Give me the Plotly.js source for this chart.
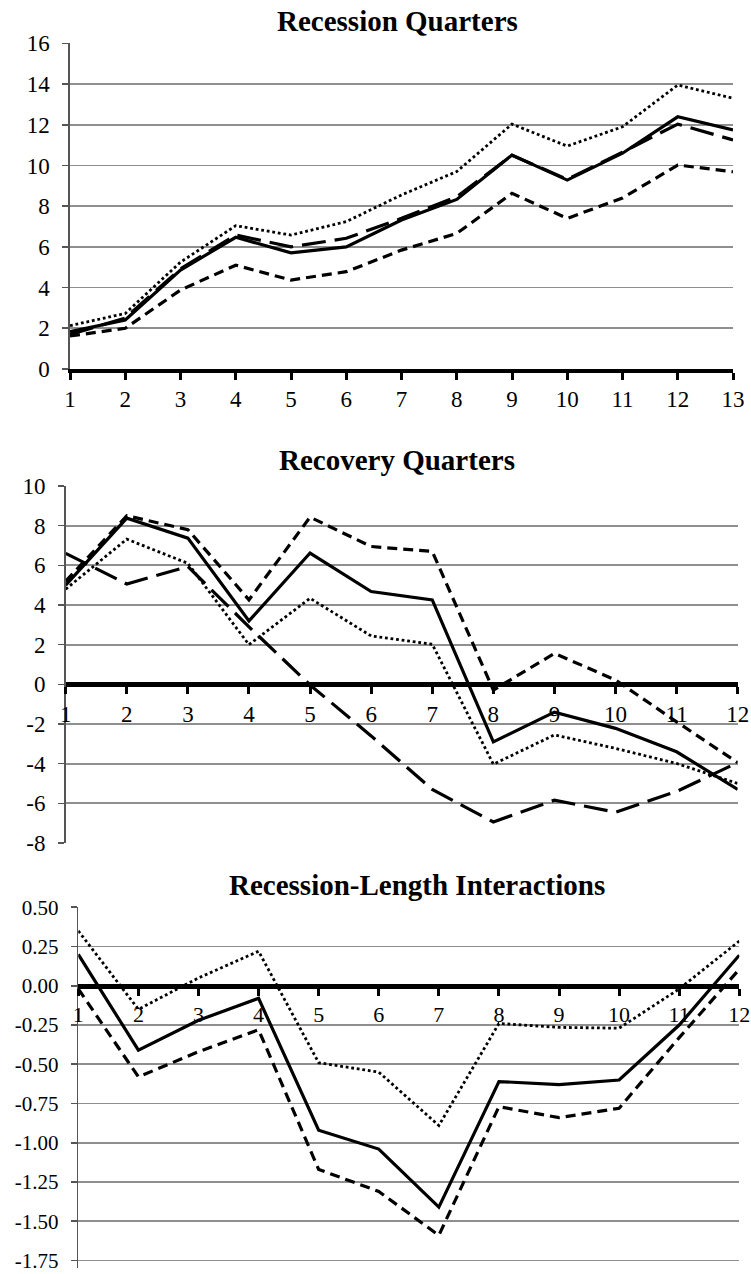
<!DOCTYPE html>
<html>
<head>
<meta charset="utf-8">
<script src="https://cdn.plot.ly/plotly-3.0.1.min.js"></script>
<style>html,body{margin:0;padding:0;background:#fff;}#chart{width:751px;height:1274px;}</style>
</head>
<body>
<div id="chart"></div>
<script>
// ---- data ----
const titles = ["Recession Quarters", "Recovery Quarters", "Recession-Length Interactions"];
const quartersRecession = [1,2,3,4,5,6,7,8,9,10,11,12,13];
const quartersRecovery = [1,2,3,4,5,6,7,8,9,10,11,12];
const quartersInteraction = [1,2,3,4,5,6,7,8,9,10,11,12];

const recessionSolid     = [1.83, 2.41, 4.86, 6.47, 5.71, 6.00, 7.32, 8.33, 10.51, 9.28, 10.60, 12.39, 11.74];
const recessionLongDash  = [1.70, 2.50, 4.92, 6.58, 6.00, 6.42, 7.40, 8.46, 10.50, 9.32, 10.65, 12.03, 11.25];
const recessionShortDash = [1.62, 2.00, 3.88, 5.10, 4.37, 4.78, 5.84, 6.66, 8.63, 7.40, 8.40, 10.02, 9.69];
const recessionDotted    = [2.13, 2.73, 5.25, 7.04, 6.58, 7.24, 8.55, 9.70, 12.03, 10.95, 11.90, 13.95, 13.30];

const recoverySolid     = [5.00, 8.38, 7.37, 3.20, 6.62, 4.68, 4.26, -2.90, -1.40, -2.22, -3.40, -5.30];
const recoveryLongDash  = [6.60, 5.06, 5.94, 2.90, -0.03, -2.60, -5.30, -6.94, -5.84, -6.45, -5.40, -3.95];
const recoveryShortDash = [5.20, 8.50, 7.80, 4.26, 8.43, 6.95, 6.70, -0.29, 1.56, 0.22, -1.89, -3.95];
const recoveryDotted    = [4.80, 7.32, 6.10, 2.00, 4.34, 2.44, 2.02, -4.03, -2.55, -3.23, -3.99, -5.00];

const interactionSolid     = [0.20, -0.41, -0.22, -0.08, -0.92, -1.04, -1.41, -0.61, -0.63, -0.60, -0.25, 0.195];
const interactionShortDash = [-0.02, -0.58, -0.42, -0.28, -1.17, -1.31, -1.59, -0.77, -0.84, -0.78, -0.33, 0.105];
const interactionDotted    = [0.35, -0.15, 0.05, 0.22, -0.49, -0.55, -0.89, -0.24, -0.265, -0.27, -0.02, 0.285];

const yTicks1 = [0,2,4,6,8,10,12,14,16];
const yTicks2 = [-8,-6,-4,-2,0,2,4,6,8,10];
const yTicks3 = [-1.75,-1.5,-1.25,-1,-0.75,-0.5,-0.25,0,0.25,0.5];
const yTickText3 = ["-1.75","-1.50","-1.25","-1.00","-0.75","-0.50","-0.25","0.00","0.25","0.50"];

// ---- styles ----
const W = 751, H = 1274;
const FONT = "Liberation Serif, Times New Roman, serif";
const styles = {
  solid:     {color:"#000", width:3.2, dash:"solid"},
  longdash:  {color:"#000", width:3.2, dash:"24px,9px"},
  shortdash: {color:"#000", width:3.2, dash:"10px,6px"},
  dotted:    {color:"#000", width:2.8, dash:"2.8px,2.8px"}
};
function tr(x, y, st, xa, ya, name){
  return {x:x, y:y, type:"scatter", mode:"lines", name:name, xaxis:xa, yaxis:ya,
          line:Object.assign({}, st), hoverinfo:"skip", showlegend:false};
}
const traces = [
  tr(quartersRecession, recessionShortDash, styles.shortdash, "x", "y", "short dash"),
  tr(quartersRecession, recessionDotted, styles.dotted, "x", "y", "dotted"),
  tr(quartersRecession, recessionLongDash, styles.longdash, "x", "y", "long dash"),
  tr(quartersRecession, recessionSolid, styles.solid, "x", "y", "solid"),

  tr(quartersRecovery, recoveryShortDash, styles.shortdash, "x2", "y2", "short dash"),
  tr(quartersRecovery, recoveryDotted, styles.dotted, "x2", "y2", "dotted"),
  tr(quartersRecovery, recoveryLongDash, styles.longdash, "x2", "y2", "long dash"),
  tr(quartersRecovery, recoverySolid, styles.solid, "x2", "y2", "solid"),

  tr(quartersInteraction, interactionShortDash, styles.shortdash, "x3", "y3", "short dash"),
  tr(quartersInteraction, interactionDotted, styles.dotted, "x3", "y3", "dotted"),
  tr(quartersInteraction, interactionSolid, styles.solid, "x3", "y3", "solid")
];

// pixel helpers
const fx = p => p / W;
const fy = p => 1 - p / H;

function xAxis(range, dom, pos, anchor, fsize){
  const a = {range:range, domain:dom, tickmode:"linear", tick0:1, dtick:1,
    showgrid:false, zeroline:false, showline:true, linecolor:"#000", linewidth:3.8,
    ticks:"outside", ticklen:7, tickwidth:3, tickcolor:"#000",
    tickfont:{family:FONT, size:fsize, color:"#000"}, ticklabeloverflow:"allow", fixedrange:true};
  if (anchor === "free"){ a.anchor = "free"; a.position = pos; } else { a.anchor = anchor; }
  return a;
}
function yAxis(range, dom, vals, text, anchor, zero, fsize){
  return {range:range, domain:dom, tickmode:"array", tickvals:vals, ticktext:text,
    showgrid:true, gridcolor:"#8f8f8f", gridwidth:1.7,
    zeroline:zero, zerolinecolor:"#000", zerolinewidth:3.8,
    showline:true, linecolor:"#555", linewidth:1.6,
    ticks:"outside", ticklen:6, tickwidth:1.6, tickcolor:"#555",
    ticklabelstandoff:8, ticklabeloverflow:"allow",
    tickfont:{family:FONT, size:fsize, color:"#000"}, anchor:anchor, fixedrange:true};
}

const d1y = [fy(369), fy(43.3)];
const d2y = [fy(843), fy(486)];
// panel 3: axis line runs a little below the -1.75 gridline, as in the reference
const r3 = [-1.8, 0.5];
const top3 = 907.3, bot3 = 1260.5;           // pixel rows of 0.50 and -1.75
const px3 = (bot3 - top3) / 2.25;
const d3y = [fy(bot3 + 0.05*px3), fy(top3)];
const zero2 = d2y[0] + (8/18)*(d2y[1]-d2y[0]);
const zero3 = d3y[0] + ((0 - r3[0])/(r3[1]-r3[0]))*(d3y[1]-d3y[0]);

const titleFont = {family:FONT, size:29, color:"#000"};
const layout = {
  width:W, height:H, margin:{l:0,r:0,t:0,b:0},
  paper_bgcolor:"#fff", plot_bgcolor:"rgba(0,0,0,0)",
  font:{family:FONT, color:"#000"}, showlegend:false, hovermode:false,
  xaxis:  xAxis([1,13], [fx(70), fx(733)], null, "y", 23),
  yaxis:  yAxis([0,16], d1y, yTicks1, yTicks1.map(String), "x", false, 23),
  xaxis2: xAxis([1,12], [fx(65.7), fx(737.7)], zero2, "free", 23),
  yaxis2: yAxis([-8,10], d2y, yTicks2, yTicks2.map(String), "x2", true, 23),
  xaxis3: xAxis([1,12], [fx(78.3), fx(739.3)], zero3, "free", 22),
  yaxis3: yAxis(r3, d3y, yTicks3, yTickText3, "x3", true, 21),
  annotations:[
    {text:"<b>"+titles[0]+"</b>", xref:"paper", yref:"paper", x:fx(397), y:fy(21), xanchor:"center", yanchor:"middle", showarrow:false, font:titleFont},
    {text:"<b>"+titles[1]+"</b>", xref:"paper", yref:"paper", x:fx(397), y:fy(460), xanchor:"center", yanchor:"middle", showarrow:false, font:titleFont},
    {text:"<b>"+titles[2]+"</b>", xref:"paper", yref:"paper", x:fx(417), y:fy(885), xanchor:"center", yanchor:"middle", showarrow:false, font:titleFont}
  ]
};

Plotly.newPlot("chart", traces, layout, {staticPlot:true, displayModeBar:false});
</script>
</body>
</html>
